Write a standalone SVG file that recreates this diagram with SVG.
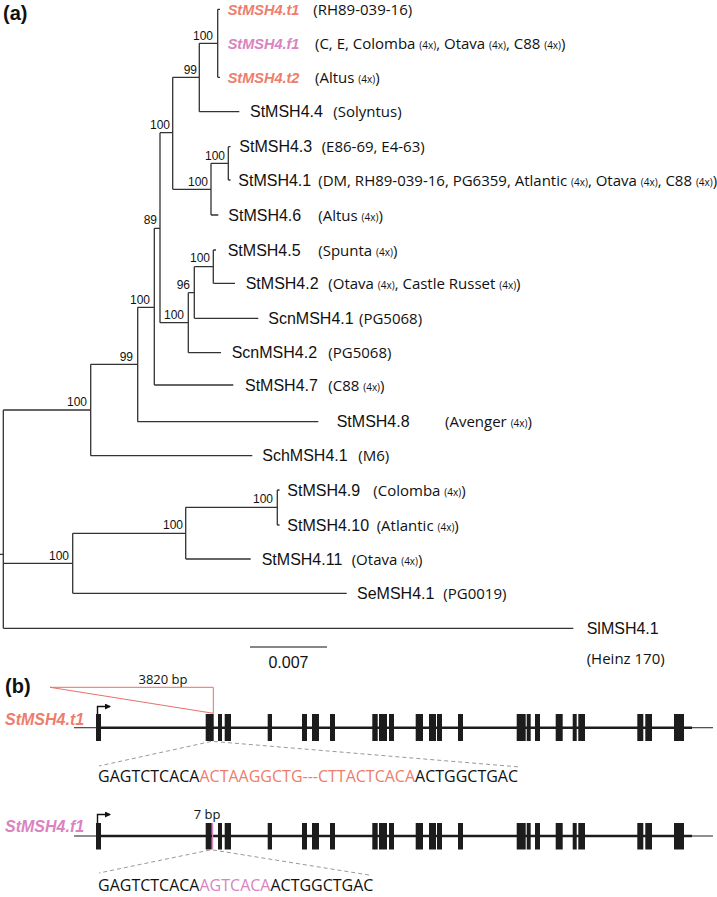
<svg xmlns="http://www.w3.org/2000/svg" width="717" height="897" viewBox="0 0 717 897">
<style>
.br{fill:none;stroke:#333;stroke-width:1.3}
.n{font-family:"Liberation Sans",Arial,sans-serif;font-size:16px;fill:#111}
.hi{font-family:"Liberation Sans",Arial,sans-serif;font-size:14.5px;font-weight:bold;font-style:italic}
.p{font-family:"Open Sans",sans-serif;font-size:15px;fill:#111}
.s{font-size:10px}
.bs{font-family:"Liberation Sans",Arial,sans-serif;font-size:12px;fill:#111;text-anchor:end}
.pl{font-family:"Liberation Sans",Arial,sans-serif;font-size:20px;font-weight:bold;fill:#111}
.sal{fill:#ee7d6b}
.pin{fill:#d983bf}
.ex{fill:#1c1c1c}
.gl{stroke:#1c1c1c;stroke-width:2.5}
.gt{stroke:#333;stroke-width:1.1}
.ds{stroke:#999;stroke-width:1;stroke-dasharray:4 3;fill:none}
.sq{font-family:"Open Sans",sans-serif;font-size:16px;fill:#111}
.sm{font-family:"Open Sans",sans-serif;font-size:13px;fill:#111;text-anchor:middle}
.gn{font-family:"Liberation Sans",Arial,sans-serif;font-size:16px;font-weight:bold;font-style:italic}
</style>
<defs>
<marker id="ah" viewBox="0 0 6 6" refX="5" refY="3" markerWidth="6" markerHeight="6" markerUnits="userSpaceOnUse" orient="auto">
<path d="M0,0 L6,3 L0,6 Z" fill="#111"/>
</marker>
</defs>
<rect width="717" height="897" fill="#fff"/>
<text class="pl" x="3" y="20">(a)</text>

<g id="connectors">
<path class="br" d="M0,554.3H3.3 M3.3,410V628.3 M3.3,410H90.7 M90.7,364.3V455.7 M90.7,455.7H252.3 M90.7,364.3H137.7 M137.7,307.3V421.7 M137.7,421.7H318.3 M137.7,307.3H154.3 M154.3,228.3V385 M154.3,385H233.3 M154.3,228.3H160 M160,132.7V322.7 M160,322.7H188.3 M188.3,292.7V352.7 M188.3,352.7H221 M188.3,292.7H194.3 M194.3,266.7V318.3 M194.3,318.3H258.3 M194.3,266.7H213.3 M213.3,250V283.3 M213.3,250H216 M213.3,283.3H235 M160,132.7H172.7 M172.7,77.3V189.3 M172.7,189.3H211 M211,163.3V215 M211,215H218.3 M211,163.3H228.3 M228.3,146.7V180 M228.3,146.7H230.5 M228.3,180H230.5 M172.7,77.3H199.3 M199.3,43.3V111.7 M199.3,111.7H239.3 M199.3,43.3H217.7 M217.7,9.3V77.3 M217.7,9.3H220 M217.7,77.3H220 M3.3,563.3H72.7 M72.7,533.3V593.3 M72.7,593.3H346.7 M72.7,533.3H185.7 M185.7,507.3V559 M185.7,559H250.7 M185.7,507.3H277.3 M277.3,490V525 M277.3,490H279.5 M277.3,525H279.5 M3.3,628.3H573.3"/>
</g>

<g id="bootstrap">
<text class="bs" x="213" y="40">100</text>
<text class="bs" x="197" y="74">99</text>
<text class="bs" x="170" y="129">100</text>
<text class="bs" x="225" y="160">100</text>
<text class="bs" x="208" y="186">100</text>
<text class="bs" x="157" y="224">89</text>
<text class="bs" x="210" y="262">100</text>
<text class="bs" x="190" y="289">96</text>
<text class="bs" x="184" y="319">100</text>
<text class="bs" x="150" y="304">100</text>
<text class="bs" x="133" y="361">99</text>
<text class="bs" x="87" y="406">100</text>
<text class="bs" x="273" y="503">100</text>
<text class="bs" x="183" y="529">100</text>
<text class="bs" x="69" y="560">100</text>
</g>

<g id="tip-t1"><text class="hi sal" x="227.7" y="14.5">StMSH4.t1</text><text class="p" x="313.3" y="14.8">(RH89-039-16)</text></g>
<g id="tip-f1"><text class="hi pin" x="227.7" y="48.5">StMSH4.f1</text><text class="p" x="315" y="48.8">(C, E, Colomba <tspan class="s">(4x)</tspan>, Otava <tspan class="s">(4x)</tspan>, C88 <tspan class="s">(4x)</tspan>)</text></g>
<g id="tip-t2"><text class="hi sal" x="227.7" y="82.5">StMSH4.t2</text><text class="p" x="315" y="82.8">(Altus <tspan class="s">(4x)</tspan>)</text></g>
<g id="tip-4-4"><text class="n" x="250" y="117.4">StMSH4.4</text><text class="p" x="333.3" y="117.2">(Solyntus)</text></g>
<g id="tip-4-3"><text class="n" x="239.3" y="152.4">StMSH4.3</text><text class="p" x="321.7" y="152.2">(E86-69, E4-63)</text></g>
<g id="tip-4-1"><text class="n" x="238.3" y="185.7">StMSH4.1</text><text class="p" x="318.3" y="185.5">(DM, RH89-039-16, PG6359, Atlantic <tspan class="s">(4x)</tspan>, Otava <tspan class="s">(4x)</tspan>, C88 <tspan class="s">(4x)</tspan>)</text></g>
<g id="tip-4-6"><text class="n" x="228.3" y="220.7">StMSH4.6</text><text class="p" x="318.3" y="220.5">(Altus <tspan class="s">(4x)</tspan>)</text></g>
<g id="tip-4-5"><text class="n" x="227.7" y="255.7">StMSH4.5</text><text class="p" x="318.3" y="255.5">(Spunta <tspan class="s">(4x)</tspan>)</text></g>
<g id="tip-4-2"><text class="n" x="245.7" y="289">StMSH4.2</text><text class="p" x="328.3" y="288.8">(Otava <tspan class="s">(4x)</tspan>, Castle Russet <tspan class="s">(4x)</tspan>)</text></g>
<g id="tip-scn4-1"><text class="n" x="268.3" y="324">ScnMSH4.1</text><text class="p" x="359" y="323.8">(PG5068)</text></g>
<g id="tip-scn4-2"><text class="n" x="231.7" y="358.4">ScnMSH4.2</text><text class="p" x="328.3" y="358.2">(PG5068)</text></g>
<g id="tip-4-7"><text class="n" x="245" y="390.7">StMSH4.7</text><text class="p" x="328.3" y="390.5">(C88 <tspan class="s">(4x)</tspan>)</text></g>
<g id="tip-4-8"><text class="n" x="336.7" y="427.4">StMSH4.8</text><text class="p" x="445" y="427.2">(Avenger <tspan class="s">(4x)</tspan>)</text></g>
<g id="tip-sch4-1"><text class="n" x="262.3" y="461.4">SchMSH4.1</text><text class="p" x="358.3" y="461.2">(M6)</text></g>
<g id="tip-4-9"><text class="n" x="287.3" y="495.7">StMSH4.9</text><text class="p" x="373.3" y="495.5">(Colomba <tspan class="s">(4x)</tspan>)</text></g>
<g id="tip-4-10"><text class="n" x="287.3" y="530.7">StMSH4.10</text><text class="p" x="376.7" y="530.5">(Atlantic <tspan class="s">(4x)</tspan>)</text></g>
<g id="tip-4-11"><text class="n" x="261.7" y="564.7">StMSH4.11</text><text class="p" x="351.7" y="564.5">(Otava <tspan class="s">(4x)</tspan>)</text></g>
<g id="tip-se4-1"><text class="n" x="357" y="599">SeMSH4.1</text><text class="p" x="443.3" y="598.8">(PG0019)</text></g>
<g id="tip-sl4-1"><text class="n" x="586.7" y="634">SlMSH4.1</text><text class="p" x="586.7" y="664">(Heinz 170)</text></g>

<g id="scale-bar">
<line x1="250" y1="647" x2="327" y2="647" stroke="#111" stroke-width="1.2"/>
<text class="n" x="288.5" y="668" text-anchor="middle" font-size="15">0.007</text>
</g>

<text class="pl" x="5" y="693">(b)</text>

<g id="gene-t1">
<text class="gn sal" x="5" y="725">StMSH4.t1</text>
<line class="gt" x1="74" y1="727.7" x2="97" y2="727.7"/>
<line class="gl" x1="97" y1="727.7" x2="692" y2="727.7"/>
<line class="gt" x1="692" y1="727.7" x2="713" y2="727.7"/>
<path d="M97.5,714V706.5H110" fill="none" stroke="#111" stroke-width="1.4" marker-end="url(#ah)"/>
<g class="ex">
<rect x="96" y="714" width="5" height="27"/>
<rect x="205.7" y="714" width="8" height="27"/>
<rect x="218" y="714" width="4" height="27"/>
<rect x="224.7" y="714" width="6.3" height="27"/>
<rect x="267.7" y="714" width="4.3" height="27"/>
<rect x="302" y="714" width="5" height="27"/>
<rect x="312" y="714" width="7" height="27"/>
<rect x="330" y="714" width="5" height="27"/>
<rect x="372.3" y="714" width="5.4" height="27"/>
<rect x="379" y="714" width="8" height="27"/>
<rect x="389" y="714" width="5" height="27"/>
<rect x="415.7" y="714" width="7.3" height="27"/>
<rect x="429" y="714" width="7" height="27"/>
<rect x="437" y="714" width="5" height="27"/>
<rect x="458" y="714" width="5" height="27"/>
<rect x="516.7" y="714" width="9" height="27"/>
<rect x="526.7" y="714" width="4" height="27"/>
<rect x="535" y="714" width="5" height="27"/>
<rect x="555.7" y="714" width="7" height="27"/>
<rect x="572.7" y="714" width="4" height="27"/>
<rect x="578.3" y="714" width="6.7" height="27"/>
<rect x="637.3" y="714" width="6" height="27"/>
<rect x="645.3" y="714" width="6.7" height="27"/>
<rect x="674" y="714" width="10" height="27"/>
</g>
<path d="M50,687.3H213.3V713.3Z" fill="none" stroke="#e8706a" stroke-width="1"/>
<text class="sm" x="163" y="684">3820 bp</text>
<path class="ds" d="M211,741.5L99,766 M214,741.5L520,767"/>
<text class="sq" x="98" y="781.7">GAGTCTCACA<tspan class="sal">ACTAAGGCTG---CTTACTCACA</tspan>ACTGGCTGAC</text>
</g>

<g id="gene-f1">
<text class="gn pin" x="5" y="832">StMSH4.f1</text>
<line class="gt" x1="74" y1="836" x2="97" y2="836"/>
<line class="gl" x1="97" y1="836" x2="692" y2="836"/>
<line class="gt" x1="692" y1="836" x2="713" y2="836"/>
<path d="M97.5,823V814.5H110" fill="none" stroke="#111" stroke-width="1.4" marker-end="url(#ah)"/>
<g class="ex">
<rect x="96" y="823" width="5" height="26.5"/>
<rect x="205.7" y="823" width="6" height="26.5"/>
<rect x="218" y="823" width="4" height="26.5"/>
<rect x="224.7" y="823" width="6.3" height="26.5"/>
<rect x="267.7" y="823" width="4.3" height="26.5"/>
<rect x="302" y="823" width="5" height="26.5"/>
<rect x="312" y="823" width="7" height="26.5"/>
<rect x="330" y="823" width="5" height="26.5"/>
<rect x="372.3" y="823" width="5.4" height="26.5"/>
<rect x="379" y="823" width="8" height="26.5"/>
<rect x="389" y="823" width="5" height="26.5"/>
<rect x="415.7" y="823" width="7.3" height="26.5"/>
<rect x="429" y="823" width="7" height="26.5"/>
<rect x="437" y="823" width="5" height="26.5"/>
<rect x="458" y="823" width="5" height="26.5"/>
<rect x="516.7" y="823" width="9" height="26.5"/>
<rect x="526.7" y="823" width="4" height="26.5"/>
<rect x="535" y="823" width="5" height="26.5"/>
<rect x="555.7" y="823" width="7" height="26.5"/>
<rect x="572.7" y="823" width="4" height="26.5"/>
<rect x="578.3" y="823" width="6.7" height="26.5"/>
<rect x="637.3" y="823" width="6" height="26.5"/>
<rect x="645.3" y="823" width="6.7" height="26.5"/>
<rect x="674" y="823" width="10" height="26.5"/>
</g>
<rect x="212" y="823" width="1.2" height="26.5" fill="#d983bf"/>
<text class="sm" x="207" y="819">7 bp</text>
<path class="ds" d="M210,850L99,873 M213,850L372,875.5"/>
<text class="sq" x="98" y="890.7">GAGTCTCACA<tspan class="pin">AGTCACA</tspan>ACTGGCTGAC</text>
</g>
</svg>
